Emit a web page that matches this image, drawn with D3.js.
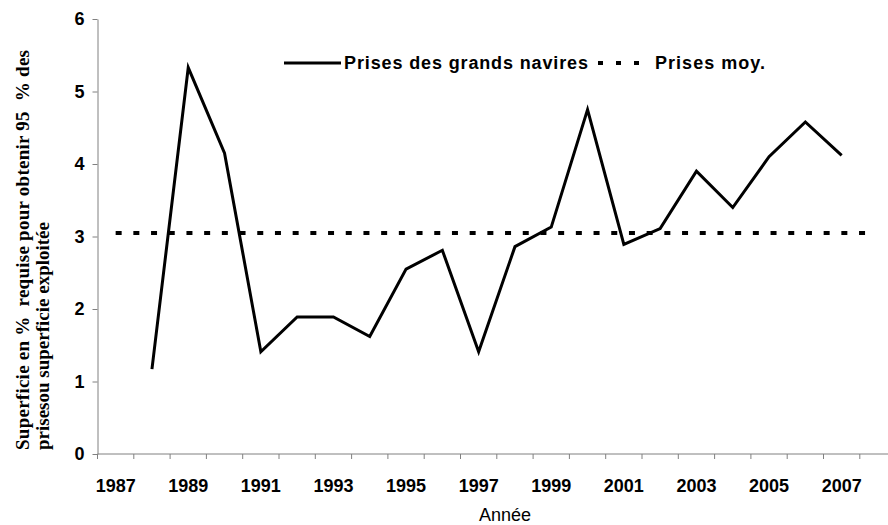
<!DOCTYPE html>
<html>
<head>
<meta charset="utf-8">
<style>
body { margin: 0; background: #fff; }
text { font-family: Arial, "Liberation Sans", sans-serif; }
</style>
<script src="https://d3js.org/d3.v7.min.js"></script>
</head>
<body>
<script>
  const width = 888;
  const height = 525;

  // categories 1987..2008, labels every other year
  const years = d3.range(1987, 2009);
  const tickYears = [1987, 1989, 1991, 1993, 1995, 1997, 1999, 2001, 2003, 2005, 2007];
  const yTicks = [0, 1, 2, 3, 4, 5, 6];

  const catchYears = [1988, 1989, 1990, 1991, 1992, 1993, 1994, 1995, 1996, 1997,
                      1998, 1999, 2000, 2001, 2002, 2003, 2004, 2005, 2006, 2007];
  const catchValues = [1.17, 5.33, 4.15, 1.41, 1.89, 1.89, 1.62, 2.55, 2.81, 1.41,
                       2.86, 3.13, 4.75, 2.89, 3.11, 3.90, 3.40, 4.10, 4.58, 4.12];
  const meanYears = [1987, 2008];
  const meanValue = 3.05;

  const x0 = 97.5, y0 = 454, yTop = 19;
  const bandW = 36.3;

  var svg = d3.select("body").append("svg")
    .attr("width", width)
    .attr("height", height);

  var x = d3.scaleBand()
    .domain(years)
    .range([x0, x0 + bandW * years.length]);

  var y = d3.scaleLinear()
    .domain([0, 6])
    .range([y0, yTop]);

  // x axis
  var xAxis = svg.append("g")
    .attr("transform", "translate(0," + y0 + ")")
    .call(d3.axisBottom(x).tickSize(0).tickFormat(""));
  xAxis.select(".domain").attr("stroke", "#808080").attr("d", "M" + x0 + ",0H" + (x0 + bandW * years.length));
  xAxis.selectAll(".tick").remove();

  // tick marks at band boundaries
  svg.append("g").selectAll("line")
    .data(years.concat([2009]))
    .enter().append("line")
      .attr("x1", function(d) { return d == 2009 ? x(2008) + bandW : x(d); })
      .attr("x2", function(d) { return d == 2009 ? x(2008) + bandW : x(d); })
      .attr("y1", y0)
      .attr("y2", y0 + 5)
      .attr("stroke", "#808080");

  svg.append("g").selectAll("text")
    .data(tickYears)
    .enter().append("text")
      .attr("x", function(d) { return x(d) + x.bandwidth() / 2; })
      .attr("y", 492)
      .attr("text-anchor", "middle")
      .style("font-size", "18px")
      .style("font-weight", "bold")
      .text(function(d) { return d; });

  // y axis
  var yAxis = svg.append("g")
    .attr("transform", "translate(" + x0 + ",0)")
    .call(d3.axisLeft(y).tickValues(yTicks).tickFormat(d3.format("d"))
      .tickSize(5).tickPadding(8).tickSizeOuter(0));
  yAxis.select(".domain").attr("stroke", "#808080");
  yAxis.selectAll(".tick line").attr("stroke", "#808080");
  yAxis.selectAll(".tick text")
    .style("font-family", "Arial, 'Liberation Sans', sans-serif")
    .style("font-size", "18px")
    .style("font-weight", "bold")
    .attr("fill", "#000");

  // axis titles
  svg.append("text")
    .attr("x", 505)
    .attr("y", 521)
    .attr("text-anchor", "middle")
    .style("font-size", "18px")
    .text("Année");

  var yTitle = svg.append("text")
    .attr("transform", "translate(29,450) rotate(-90)")
    .style("font-family", "'Liberation Serif', 'Times New Roman', serif")
    .style("font-size", "19px")
    .style("font-weight", "bold")
    .style("white-space", "pre");
  yTitle.append("tspan")
    .attr("x", 0).attr("y", 0)
    .attr("textLength", 400).attr("lengthAdjust", "spacing")
    .text("Superficie en %  requise pour obtenir 95  % des");
  yTitle.append("tspan")
    .attr("x", 0).attr("y", 20)
    .text("prisesou superficie exploitée");

  // mean line
  svg.append("line")
    .attr("x1", x(meanYears[0]) + x.bandwidth() / 2)
    .attr("x2", x(meanYears[1]) + x.bandwidth() / 2 - 11)
    .attr("y1", y(meanValue))
    .attr("y2", y(meanValue))
    .attr("stroke", "#000")
    .attr("stroke-width", 4)
    .attr("stroke-dasharray", "6,11.7");

  // catch line
  var line = d3.line()
    .x(function(d, i) { return x(catchYears[i]) + x.bandwidth() / 2; })
    .y(function(d) { return y(d); });

  svg.append("path")
    .datum(catchValues)
    .attr("d", line)
    .attr("fill", "none")
    .attr("stroke", "#000")
    .attr("stroke-width", 3)
    .attr("stroke-linejoin", "miter");

  // legend
  var legend = svg.append("g");
  legend.append("line")
    .attr("x1", 284).attr("x2", 341)
    .attr("y1", 63).attr("y2", 63)
    .attr("stroke", "#000").attr("stroke-width", 3);
  legend.append("text")
    .attr("x", 344).attr("y", 69)
    .attr("textLength", 244).attr("lengthAdjust", "spacing")
    .style("font-size", "18px").style("font-weight", "bold")
    .text("Prises des grands navires");
  legend.append("line")
    .attr("x1", 598).attr("x2", 652)
    .attr("y1", 63).attr("y2", 63)
    .attr("stroke", "#000").attr("stroke-width", 4)
    .attr("stroke-dasharray", "5,13");
  legend.append("text")
    .attr("x", 655).attr("y", 69)
    .attr("textLength", 110).attr("lengthAdjust", "spacing")
    .style("font-size", "18px").style("font-weight", "bold")
    .text("Prises moy.");
</script>
</body>
</html>
